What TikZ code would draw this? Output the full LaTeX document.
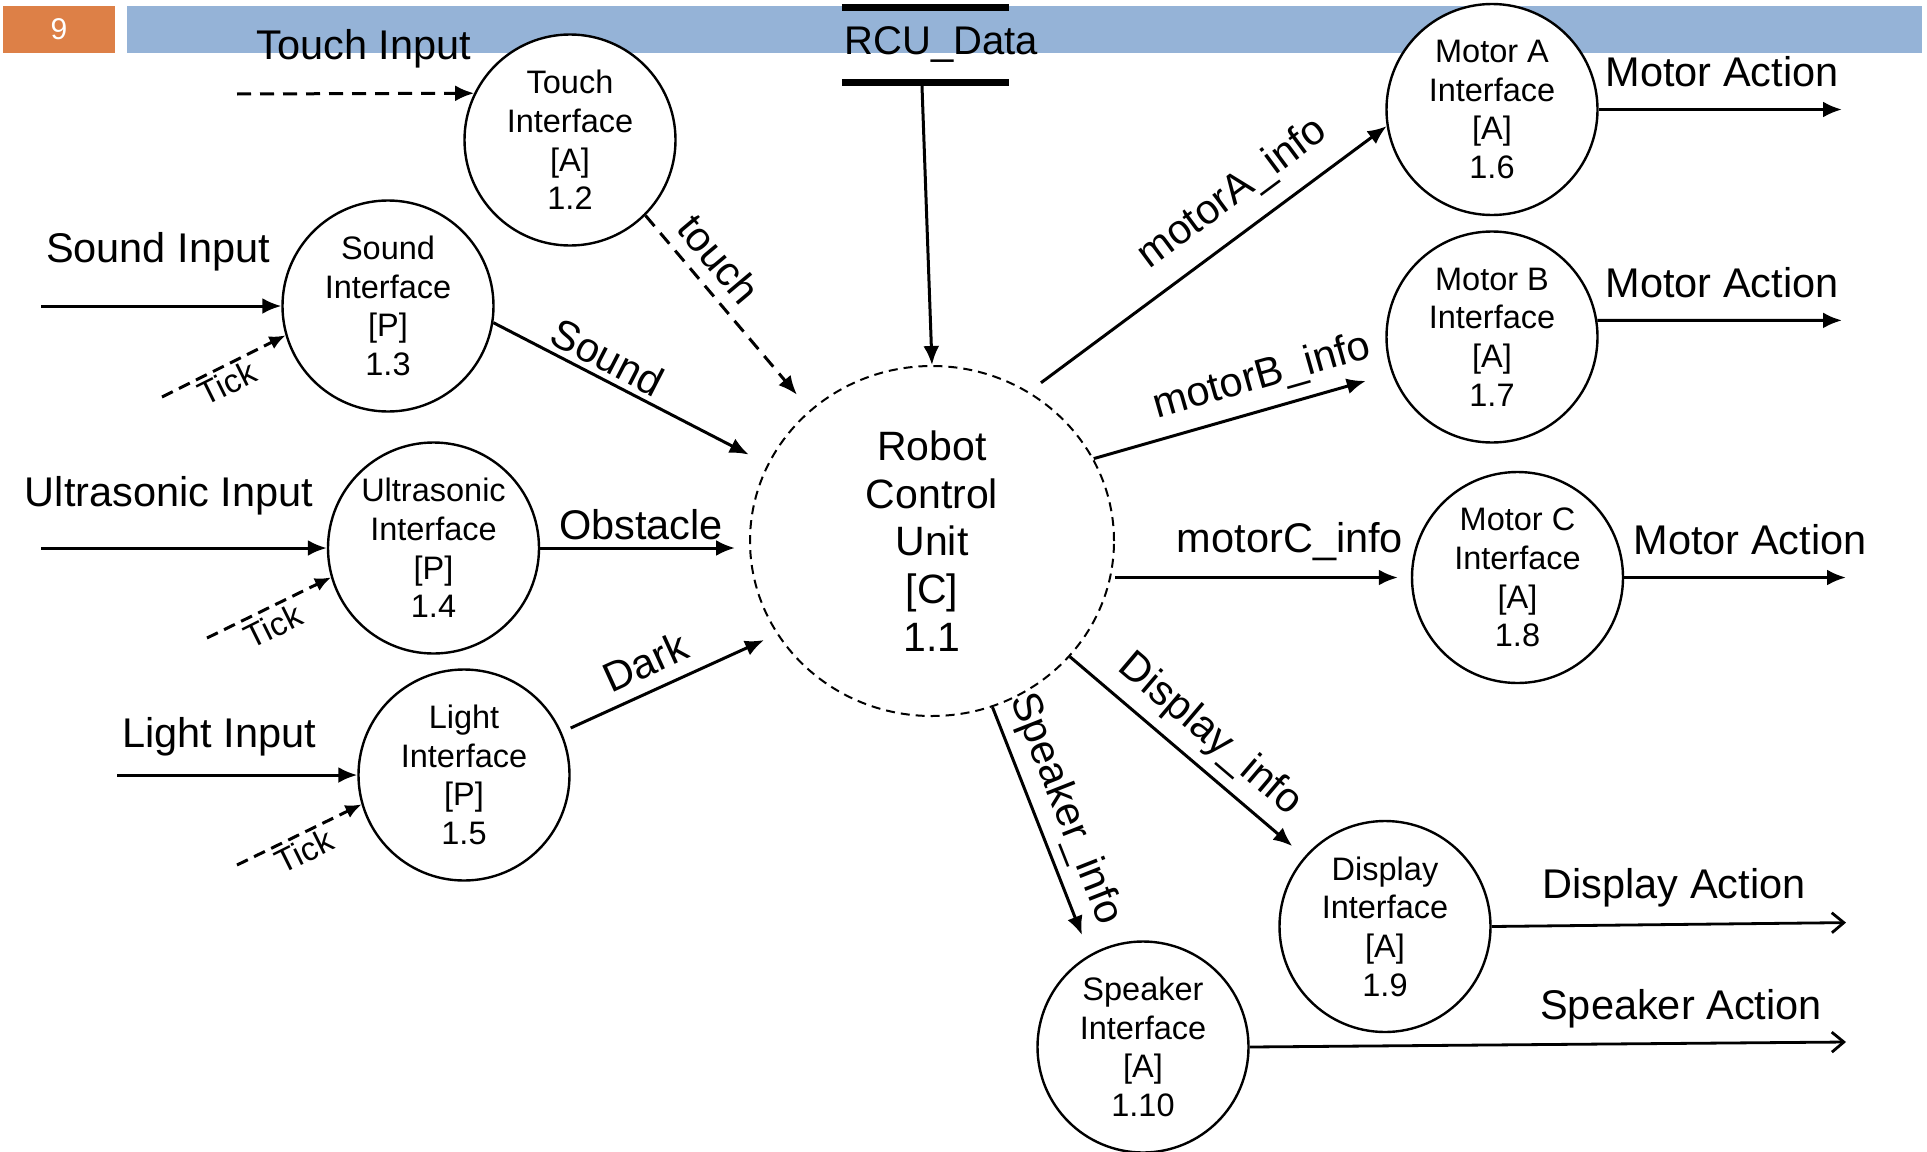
\documentclass[tikz,border=0pt]{standalone}
\usepackage{fontspec}
\setmainfont{Liberation Sans}
\usetikzlibrary{arrows.meta,calc,shapes.geometric}

\definecolor{barblue}{HTML}{95B3D7}
\definecolor{slideorange}{HTML}{DD8047}

% font sizes (1 unit = 1pt)
\newcommand\lblfont{\fontsize{41.5}{48}\selectfont}
\newcommand\procfont{\fontsize{32.5}{38.7}\selectfont}
\newcommand\rcufont{\fontsize{41}{47.8}\selectfont}
\newcommand\tickfont{\fontsize{33}{36}\selectfont}

\begin{document}
\begin{tikzpicture}[x=1pt,y=-1pt,
  proc/.style={circle,draw,fill=white,line width=2.4pt,minimum size=211pt,
    inner sep=0pt,align=center,font=\procfont},
  ctrl/.style={ellipse,draw,dash pattern=on 9pt off 6pt,line width=2pt,
    minimum width=364pt,minimum height=350pt,inner sep=0pt,align=center,font=\rcufont},
  flow/.style={line width=3pt,-{Latex[length=19pt,width=16pt]}},
  dflow/.style={flow,dash pattern=on 14pt off 9pt},
  tickflow/.style={line width=3pt,dash pattern=on 12pt off 7pt,-{Latex[length=16pt,width=14pt]}},
  outflow/.style={line width=2.8pt,-{Straight Barb[length=12pt,width=20pt]}},
  lbl/.style={font=\lblfont,inner sep=0pt},
  ticklbl/.style={font=\tickfont,inner sep=0pt},
]
\useasboundingbox (0,0) rectangle (1927,1151);
\fill[white] (0,0) rectangle (1927,1151);

% slide header
\fill[slideorange] (3,6) rectangle (115,53);
\node[text=white,font=\fontsize{30}{30}\selectfont,inner sep=0pt] (pagenum) at (59,29) {9};
\fill[barblue] (127,6) rectangle (1922,53);

% data store
\node[minimum width=167pt,minimum height=75pt,inner sep=0pt] (store) at (925.5,45) {};
\draw[line width=7pt] (store.north west) -- (store.north east);
\draw[line width=7pt] (store.south west) -- (store.south east);
\node[font=\fontsize{40}{40}\selectfont,inner sep=0pt] (storelbl) at (941.5,45) {RCU\_Data};

% processes
\node[ctrl] (rcu) at (932,541) {Robot\\Control\\Unit\\{[C]}\\1.1};
\node[proc] (touch) at (570,140) {Touch\\Interface\\{[A]}\\1.2};
\node[proc] (sound) at (388,306) {Sound\\Interface\\{[P]}\\1.3};
\node[proc] (ultra) at (433.5,548) {Ultrasonic\\Interface\\{[P]}\\1.4};
\node[proc] (light) at (464,775) {Light\\Interface\\{[P]}\\1.5};
\node[proc] (ma) at (1492,109.5) {Motor A\\Interface\\{[A]}\\1.6};
\node[proc] (mb) at (1492,337) {Motor B\\Interface\\{[A]}\\1.7};
\node[proc] (mc) at (1517.5,577.5) {Motor C\\Interface\\{[A]}\\1.8};
\node[proc] (disp) at (1385,926.5) {Display\\Interface\\{[A]}\\1.9};
\node[proc] (spk) at (1143,1047) {Speaker\\Interface\\{[A]}\\1.10};

% free ends of external flows
\coordinate (touchsrc) at (237,94);
\coordinate (soundsrc) at (41,306);
\coordinate (ultrasrc) at (41,548);
\coordinate (lightsrc) at (117,775);
\coordinate (ticksound) at (162,397);
\coordinate (tickultra) at (207,638);
\coordinate (ticklight) at (237,865);
\coordinate (maout) at (1842,109.5);
\coordinate (mbout) at (1842,320.4);
\coordinate (mcout) at (1846,577.5);
\coordinate (dispout) at (1846,922.6);
\coordinate (spkout) at (1846,1042);

% inputs
\draw[dflow] (touchsrc) -- (touch.154);
\draw[flow] (soundsrc) -- (sound.west);
\draw[flow] (ultrasrc) -- (ultra.west);
\draw[flow] (lightsrc) -- (light.west);
\draw[tickflow] (ticksound) -- (sound.196);
\draw[tickflow] (tickultra) -- (ultra.196);
\draw[tickflow] (ticklight) -- (light.196);

% sensor flows into the control unit
\draw[dflow,shorten >=20pt] (touch.-45) -- (rcu.133);
\draw[flow,shorten >=21pt] (sound.-9) -- (rcu.155);
\draw[flow,shorten >=14pt] (ultra.east) -- (ultra.east -| rcu.west);
\draw[flow,shorten >=14pt] ($(light.east)+(0,-47)$) -- (rcu.211);
\draw[flow] ($(store.south)+(-3.5,3.5)$) -- (rcu.north);

% control unit to actuators
\draw[flow,shorten <=15pt] (rcu.57) -- (ma.189);
\draw[flow,shorten >=27pt] (rcu.27) -- (mb.200);
\draw[flow,shorten >=13pt] (mc.west -| rcu.east) -- (mc.west);
\draw[flow,shorten >=16pt] (rcu.-40) -- (disp.139);
\draw[flow,shorten >=21pt] (rcu.-70) -- (spk.120);

% outputs
\draw[flow] (ma.east) -- (maout);
\draw[flow] (mb.9) -- (mbout);
\draw[flow] (mc.east) -- (mcout);
\draw[outflow] (disp.east) -- (dispout);
\draw[outflow] (spk.east) -- (spkout);

% flow names
\node[lbl] (l-touchin) at (364,49) {Touch Input};
\node[lbl] (l-soundin) at (158,252) {Sound Input};
\node[lbl] (l-ultrain) at (169,496) {Ultrasonic Input};
\node[lbl] (l-lightin) at (219,737) {Light Input};
\node[ticklbl,rotate=26.4] (l-tick1) at (227,383) {Tick};
\node[ticklbl,rotate=26.4] (l-tick2) at (273,626) {Tick};
\node[ticklbl,rotate=26.4] (l-tick3) at (304,851) {Tick};
\node[lbl,rotate=-50] (l-touch) at (719,259) {touch};
\node[lbl,rotate=-27.3] (l-sound) at (608,357) {Sound};
\node[lbl] (l-obst) at (641,525) {Obstacle};
\node[lbl,rotate=24.5] (l-dark) at (645,662) {Dark};
\node[lbl,rotate=36.6] (l-mA) at (1233,194) {motorA\_info};
\node[lbl,rotate=15.9] (l-mB) at (1262,377) {motorB\_info};
\node[lbl] (l-mC) at (1290,542) {motorC\_info};
\node[lbl,rotate=-40.4] (l-disp) at (1210,735) {Display\_info};
\node[lbl,rotate=-68.5] (l-spk) at (1065,809) {Speaker\_info};
\node[lbl] (l-maout) at (1722,72) {Motor Action};
\node[lbl] (l-mbout) at (1722,283) {Motor Action};
\node[lbl] (l-mcout) at (1750,540) {Motor Action};
\node[lbl] (l-dispout) at (1674,888) {Display Action};
\node[lbl] (l-spkout) at (1681,1009) {Speaker Action};
\end{tikzpicture}
\end{document}
